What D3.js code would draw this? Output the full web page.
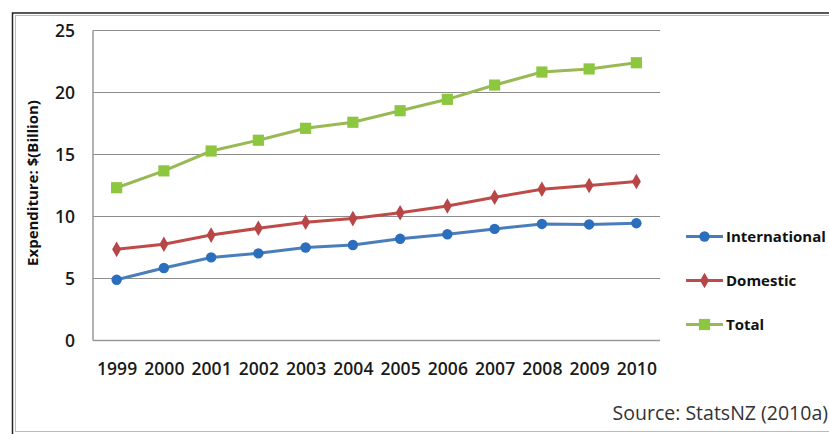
<!DOCTYPE html>
<html lang="en">
	<head>
		<meta charset="utf-8">
		<title>D3: Expenditure line chart</title>
		<script type="text/javascript" src="https://cdn.jsdelivr.net/npm/d3@7"></script>
		<style type="text/css">
		body { margin: 0; background: #fff; }
		.tick text { font-family: "Open Sans", sans-serif; font-weight: 600; font-size: 17.5px; fill: #1a1a1a; }
		.legend text { font-family: "Open Sans", sans-serif; font-weight: 700; font-size: 15px; fill: #111; }
		</style>
	</head>
	<body>
		<script type="text/javascript">

		//Width and height
		var w = 829;
		var h = 434;

		//Data
		var years = ["1999", "2000", "2001", "2002", "2003", "2004", "2005", "2006", "2007", "2008", "2009", "2010"];
		var international = [4.9, 5.85, 6.7, 7.03, 7.5, 7.7, 8.2, 8.57, 9.0, 9.4, 9.36, 9.46];
		var domestic = [7.35, 7.76, 8.5, 9.05, 9.53, 9.83, 10.3, 10.85, 11.55, 12.2, 12.5, 12.82];
		var total = [12.32, 13.68, 15.28, 16.15, 17.11, 17.6, 18.53, 19.45, 20.6, 21.65, 21.9, 22.4];
		var yTicks = [0, 5, 10, 15, 20, 25];

		var series = [
			{ name: "International", values: international, line: "#4a7ebb", fill: "#2a6ebd", symbol: d3.symbolCircle, size: 85 },
			{ name: "Domestic", values: domestic, line: "#be4b48", fill: "#b94646", symbol: d3.symbolDiamond, size: 70 },
			{ name: "Total", values: total, line: "#98b954", fill: "#8dc63f", symbol: d3.symbolSquare, size: 125 }
		];

		var svg = d3.select("body")
					.append("svg")
					.attr("width", w)
					.attr("height", h);

		//Outer frame (double line)
		svg.append("rect")
			.attr("x", 12.5).attr("y", 13)
			.attr("width", w).attr("height", h)
			.attr("fill", "none").attr("stroke", "#222").attr("stroke-width", 1.5);
		svg.append("rect")
			.attr("x", 15.5).attr("y", 15.5)
			.attr("width", w).attr("height", 416)
			.attr("fill", "none").attr("stroke", "#bbb").attr("stroke-width", 1);

		//Scales
		var xScale = d3.scalePoint()
						.domain(years)
						.range([93, 660])
						.padding(0.5);

		var yScale = d3.scaleLinear()
						.domain([0, 25])
						.range([340.5, 30.5]);

		//Gridlines
		svg.append("g")
			.selectAll("line")
			.data(yTicks)
			.enter()
			.append("line")
			.attr("x1", 93).attr("x2", 660)
			.attr("y1", function(d) { return yScale(d); })
			.attr("y2", function(d) { return yScale(d); })
			.attr("stroke", function(d) { return d === 0 ? "#999" : "#8c8c8c"; })
			.attr("stroke-width", function(d) { return d === 0 ? 1.5 : 1; });

		svg.append("line")
			.attr("x1", 93).attr("x2", 93)
			.attr("y1", yScale(25)).attr("y2", yScale(0))
			.attr("stroke", "#999").attr("stroke-width", 1.5);

		//Axes
		var yAxis = d3.axisLeft(yScale).tickValues(yTicks).tickSize(0).tickPadding(18);
		svg.append("g")
			.attr("transform", "translate(93,0)")
			.call(yAxis)
			.call(function(g) { g.select(".domain").remove(); });

		var xAxis = d3.axisBottom(xScale).tickSize(0).tickPadding(22);
		svg.append("g")
			.attr("transform", "translate(0," + yScale(0) + ")")
			.call(xAxis)
			.call(function(g) { g.select(".domain").remove(); });

		//Y axis title
		svg.append("text")
			.attr("transform", "translate(38,183) rotate(-90)")
			.attr("text-anchor", "middle")
			.style("font-family", "'Open Sans', sans-serif")
			.style("font-weight", 700)
			.style("font-size", "15px")
			.attr("fill", "#111")
			.text("Expenditure: $(Billion)");

		//Lines
		var line = d3.line()
					.x(function(d, i) { return xScale(years[i]); })
					.y(function(d) { return yScale(d); });

		var groups = svg.selectAll(".series")
						.data(series)
						.enter()
						.append("g")
						.attr("class", "series");

		groups.append("path")
			.attr("d", function(d) { return line(d.values); })
			.attr("fill", "none")
			.attr("stroke", function(d) { return d.line; })
			.attr("stroke-width", 3);

		groups.each(function(s) {
			d3.select(this).selectAll(".pt")
				.data(s.values)
				.enter()
				.append("path")
				.attr("class", "pt")
				.attr("transform", function(d, i) { return "translate(" + xScale(years[i]) + "," + yScale(d) + ")"; })
				.attr("d", d3.symbol().type(s.symbol).size(s.size))
				.attr("fill", s.fill);
		});

		//Legend
		var legend = svg.append("g")
						.attr("class", "legend")
						.selectAll("g")
						.data(series)
						.enter()
						.append("g")
						.attr("transform", function(d, i) { return "translate(686," + (236.5 + i * 44) + ")"; });

		legend.append("line")
			.attr("x1", 0).attr("x2", 37)
			.attr("stroke", function(d) { return d.line; })
			.attr("stroke-width", 3);

		legend.append("path")
			.attr("transform", "translate(18.5,0)")
			.attr("d", function(d) { return d3.symbol().type(d.symbol).size(d.size)(); })
			.attr("fill", function(d) { return d.fill; });

		legend.append("text")
			.attr("x", 40)
			.attr("dy", "0.35em")
			.text(function(d) { return d.name; });

		//Source note
		svg.append("text")
			.attr("x", 828)
			.attr("y", 420)
			.attr("text-anchor", "end")
			.style("font-family", "'Open Sans', sans-serif")
			.style("font-size", "19.5px")
			.attr("fill", "#333")
			.text("Source: StatsNZ (2010a)");

		</script>
	</body>
</html>
